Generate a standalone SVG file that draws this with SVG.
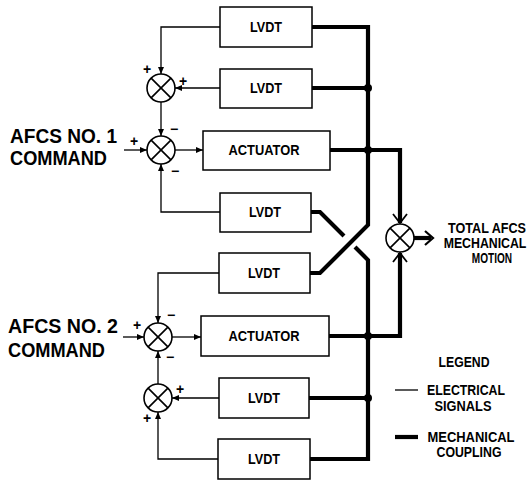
<svg xmlns="http://www.w3.org/2000/svg" width="532" height="482" viewBox="0 0 532 482">
<defs>
<style>
.box{fill:#fff;stroke:#000;stroke-width:1.5}
.sj{fill:#fff;stroke:#000;stroke-width:1.6}
.x{stroke:#000;stroke-width:1.6}
.el{fill:none;stroke:#000;stroke-width:1.3}
.me{fill:none;stroke:#000;stroke-width:4.2;stroke-linejoin:miter}
.t{font-family:"Liberation Sans",Arial,sans-serif;font-weight:bold;fill:#000}
.lb{font-size:14px}
.big{font-size:21px}
.sg{font-size:14px}
.dot{fill:#000}
</style>
<marker id="a" markerWidth="8" markerHeight="8" refX="7" refY="4" orient="auto" markerUnits="userSpaceOnUse">
<path d="M0,1 L7,4 L0,7 Z" fill="#000"/>
</marker>
</defs>

<g id="connectors">
<path class="el" d="M220,27 H161 V74" marker-end="url(#a)"/>
<path class="el" d="M220,88 H175" marker-end="url(#a)"/>
<path class="el" d="M161,102 V136" marker-end="url(#a)"/>
<path class="el" d="M124,150 H147" marker-end="url(#a)"/>
<path class="el" d="M175,150 H203" marker-end="url(#a)"/>
<path class="el" d="M220,212 H161 V164" marker-end="url(#a)"/>
<path class="el" d="M219,273 H158 V323" marker-end="url(#a)"/>
<path class="el" d="M123,337 H144" marker-end="url(#a)"/>
<path class="el" d="M172,337 H201" marker-end="url(#a)"/>
<path class="el" d="M158,384 V351" marker-end="url(#a)"/>
<path class="el" d="M219,398 H172" marker-end="url(#a)"/>
<path class="el" d="M218,459 H158 V412" marker-end="url(#a)"/>
<path class="me" d="M312,27 H368 V225 L320,273 H310"/>
<path class="me" d="M312,88 H368"/>
<path class="me" d="M330,150 H400 V223"/>
<path class="me" d="M311,212 H320 L344,236"/>
<path class="me" d="M355,247 L368,260 V459 H310"/>
<path class="me" d="M309,398 H368"/>
<path class="me" d="M329,336 H400 V253"/>
<path d="M393,214 L400,223 L407,214" fill="none" stroke="#000" stroke-width="1.8"/>
<path d="M393,262 L400,253 L407,262" fill="none" stroke="#000" stroke-width="1.8"/>
<path class="me" d="M414,238 H431"/>
<path d="M425,231 L433,238 L425,245" fill="none" stroke="#000" stroke-width="2.2"/>
<circle class="dot" cx="368" cy="88" r="4"/>
<circle class="dot" cx="368" cy="150" r="4"/>
<circle class="dot" cx="368" cy="336" r="4"/>
<circle class="dot" cx="368" cy="398" r="4"/>
</g>

<g id="lvdt1"><rect class="box" x="220" y="7" width="92" height="40"/><text class="t lb" x="266" y="32" text-anchor="middle" textLength="32" lengthAdjust="spacingAndGlyphs">LVDT</text></g>
<g id="lvdt2"><rect class="box" x="220" y="69" width="92" height="39"/><text class="t lb" x="266" y="93" text-anchor="middle" textLength="32" lengthAdjust="spacingAndGlyphs">LVDT</text></g>
<g id="actuator1"><rect class="box" x="203" y="131" width="127" height="39"/><text class="t lb" x="264" y="155" text-anchor="middle" textLength="71" lengthAdjust="spacingAndGlyphs">ACTUATOR</text></g>
<g id="lvdt3"><rect class="box" x="220" y="193" width="91" height="39"/><text class="t lb" x="265" y="217" text-anchor="middle" textLength="32" lengthAdjust="spacingAndGlyphs">LVDT</text></g>
<g id="lvdt4"><rect class="box" x="219" y="253" width="91" height="40"/><text class="t lb" x="264" y="278" text-anchor="middle" textLength="32" lengthAdjust="spacingAndGlyphs">LVDT</text></g>
<g id="actuator2"><rect class="box" x="201" y="316" width="128" height="40"/><text class="t lb" x="264" y="341" text-anchor="middle" textLength="71" lengthAdjust="spacingAndGlyphs">ACTUATOR</text></g>
<g id="lvdt5"><rect class="box" x="219" y="378" width="90" height="40"/><text class="t lb" x="264" y="403" text-anchor="middle" textLength="32" lengthAdjust="spacingAndGlyphs">LVDT</text></g>
<g id="lvdt6"><rect class="box" x="218" y="439" width="92" height="40"/><text class="t lb" x="264" y="464" text-anchor="middle" textLength="32" lengthAdjust="spacingAndGlyphs">LVDT</text></g>

<g id="sum1"><circle class="sj" cx="161" cy="88" r="14"/><path class="x" d="M151.1,78.1 L170.9,97.9 M170.9,78.1 L151.1,97.9"/>
<text class="t sg" x="147" y="74" text-anchor="middle">+</text><text class="t sg" x="183" y="86" text-anchor="middle">+</text></g>
<g id="sum2"><circle class="sj" cx="161" cy="150" r="14"/><path class="x" d="M151.1,140.1 L170.9,159.9 M170.9,140.1 L151.1,159.9"/>
<text class="t sg" x="174" y="134" text-anchor="middle">−</text><text class="t sg" x="134" y="146" text-anchor="middle">+</text><text class="t sg" x="175" y="176" text-anchor="middle">−</text></g>
<g id="sum3"><circle class="sj" cx="158" cy="337" r="14"/><path class="x" d="M148.1,327.1 L167.9,346.9 M167.9,327.1 L148.1,346.9"/>
<text class="t sg" x="171" y="320" text-anchor="middle">−</text><text class="t sg" x="137" y="330" text-anchor="middle">+</text><text class="t sg" x="170" y="362" text-anchor="middle">−</text></g>
<g id="sum4"><circle class="sj" cx="158" cy="398" r="14"/><path class="x" d="M148.1,388.1 L167.9,407.9 M167.9,388.1 L148.1,407.9"/>
<text class="t sg" x="180" y="394" text-anchor="middle">+</text><text class="t sg" x="147" y="423" text-anchor="middle">+</text></g>
<g id="sumTotal"><circle class="sj" cx="400" cy="238" r="14"/><path class="x" d="M390.1,228.1 L409.9,247.9 M409.9,228.1 L390.1,247.9"/></g>

<g id="cmd1"><text class="t big" x="10" y="143" textLength="107" lengthAdjust="spacingAndGlyphs">AFCS NO. 1</text><text class="t big" x="10" y="165" textLength="97" lengthAdjust="spacingAndGlyphs">COMMAND</text></g>
<g id="cmd2"><text class="t big" x="8" y="333" textLength="110" lengthAdjust="spacingAndGlyphs">AFCS NO. 2</text><text class="t big" x="8" y="357" textLength="97" lengthAdjust="spacingAndGlyphs">COMMAND</text></g>

<g id="output">
<text class="t lb" transform="translate(487,233) scale(0.9,1)" text-anchor="middle">TOTAL AFCS</text>
<text class="t lb" transform="translate(485,248) scale(0.88,1)" text-anchor="middle">MECHANICAL</text>
<text class="t lb" transform="translate(492,263) scale(0.72,1)" text-anchor="middle">MOTION</text>
</g>

<g id="legend">
<text class="t lb" x="464" y="367" text-anchor="middle" textLength="51" lengthAdjust="spacingAndGlyphs">LEGEND</text>
<line x1="395" y1="390" x2="418" y2="390" stroke="#000" stroke-width="1.3"/>
<text class="t lb" x="466" y="395" text-anchor="middle" textLength="78" lengthAdjust="spacingAndGlyphs">ELECTRICAL</text>
<text class="t lb" x="463" y="411" text-anchor="middle" textLength="57" lengthAdjust="spacingAndGlyphs">SIGNALS</text>
<line x1="395" y1="437" x2="418" y2="437" stroke="#000" stroke-width="4.2"/>
<text class="t lb" x="471" y="442" text-anchor="middle" textLength="87" lengthAdjust="spacingAndGlyphs">MECHANICAL</text>
<text class="t lb" x="469" y="457" text-anchor="middle" textLength="65" lengthAdjust="spacingAndGlyphs">COUPLING</text>
</g>
</svg>
